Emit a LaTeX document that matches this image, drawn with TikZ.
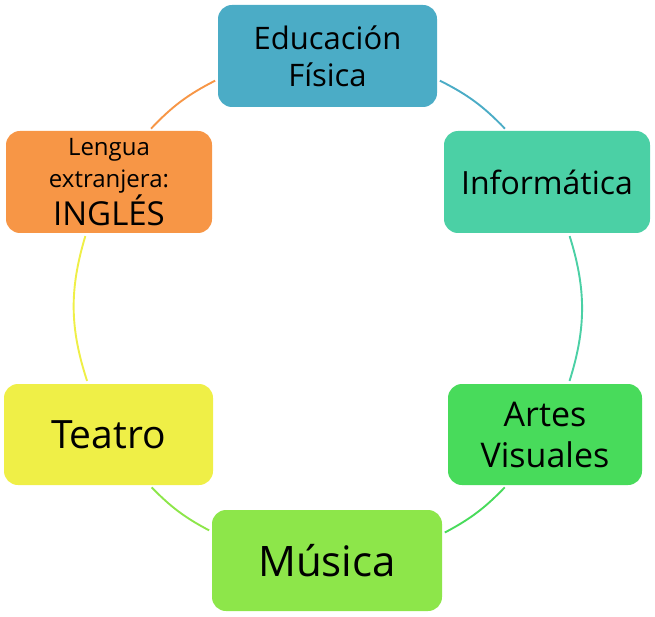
\documentclass[tikz,border=0pt]{standalone}
\usepackage{fontspec}
\setmainfont{Open Sans}
\definecolor{eduBlue}{HTML}{4BACC6}
\definecolor{infoTeal}{HTML}{4BD0A5}
\definecolor{artesGreen}{HTML}{48DB5B}
\definecolor{musicaLime}{HTML}{8DE64A}
\definecolor{teatroYellow}{HTML}{EFEF47}
\definecolor{lenguaOrange}{HTML}{F79646}
\tikzset{
  subject/.style={rounded corners=14pt, align=center, inner sep=0pt, minimum height=102pt, text=black},
  ring/.style={line width=1.9pt, shorten <=3pt, shorten >=3pt},
}
\begin{document}
\begin{tikzpicture}[x=1pt,y=-1pt]
\useasboundingbox (0,0) rectangle (655,617);
% subjects around the circle
\node[subject,fill=eduBlue,minimum width=219pt,font=\fontsize{31}{37}\selectfont] (edu) at (327.5,56) {Educación\\Física};
\node[subject,fill=infoTeal,minimum width=206pt,font=\fontsize{32}{36}\selectfont] (info) at (547,182) {Informática};
\node[subject,fill=artesGreen,minimum width=194pt,minimum height=101pt,font=\fontsize{34}{41}\selectfont] (artes) at (545,434.5) {Artes\\Visuales};
\node[subject,fill=musicaLime,minimum width=230pt,minimum height=101pt,font=\fontsize{42}{46}\selectfont] (musica) at (327,560.5) {Música};
\node[subject,fill=teatroYellow,minimum width=209pt,minimum height=101pt,font=\fontsize{39}{44}\selectfont] (teatro) at (108.5,434.5) {Teatro};
\node[subject,fill=lenguaOrange,minimum width=206pt,font=\fontsize{24}{32}\selectfont] (lengua) at (109,182) {Lengua\\extranjera:\\{\fontsize{33}{36}\selectfont INGLÉS}};
% arcs between neighbours
\draw[ring,eduBlue] (edu.-12.9) to[bend left=9.8] (info.128.2);
\draw[ring,infoTeal] (info.-67.5) to[bend left=17.4] (artes.65.7);
\draw[ring,artesGreen] (artes.233) to[bend left=9.2] (musica.13.7);
\draw[ring,musicaLime] (musica.166.1) to[bend left=9] (teatro.-51.9);
\draw[ring,teatroYellow] (teatro.112.9) to[bend left=17.4] (lengua.246.6);
\draw[ring,lenguaOrange] (lengua.52.5) to[bend left=9.8] (edu.192.9);
\end{tikzpicture}
\end{document}
